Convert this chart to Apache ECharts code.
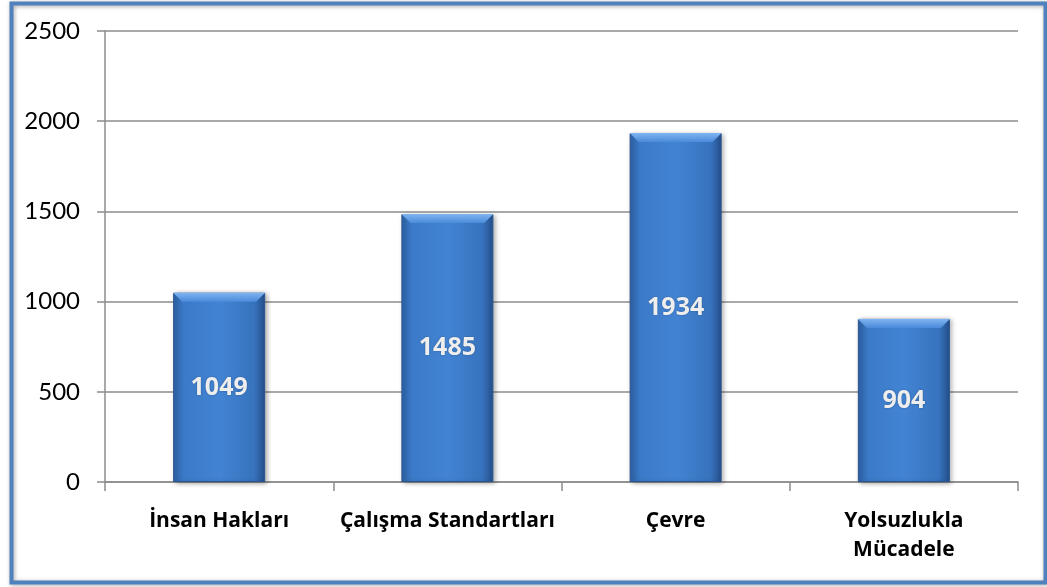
<!DOCTYPE html>
<html>
<head>
<meta charset="utf-8">
<script src="https://cdn.jsdelivr.net/npm/echarts@6/dist/echarts.min.js"></script>
<style>
  html, body { margin: 0; padding: 0; background: #ffffff; }
  #chart { width: 1047px; height: 587px; }
</style>
</head>
<body>
<div id="chart"></div>
<script>
// Category names and counts per principle area
const categories = ['İnsan Hakları', 'Çalışma Standartları', 'Çevre', 'Yolsuzlukla\nMücadele'];
const counts = [1049, 1485, 1934, 904];
const yTicks = [0, 500, 1000, 1500, 2000, 2500];

const BAR_W = 92;
const BEVEL = 9;

const chart = echarts.init(document.getElementById('chart'), null, { renderer: 'canvas' });

const barFill = new echarts.graphic.LinearGradient(0, 0, 1, 0, [
  { offset: 0, color: '#2f64a8' },
  { offset: 0.12, color: '#3b7ac8' },
  { offset: 0.5, color: '#4284d3' },
  { offset: 0.88, color: '#3773be' },
  { offset: 1, color: '#254f8a' }
]);

// Light chamfer along the top edge of every bar
function renderBevel(params, api) {
  const top = api.coord([api.value(0), api.value(1)]);
  const x0 = top[0] - BAR_W / 2;
  const x1 = top[0] + BAR_W / 2;
  const y = top[1];
  return {
    type: 'polygon',
    shape: { points: [[x0, y], [x1, y], [x1 - BEVEL, y + BEVEL], [x0 + BEVEL, y + BEVEL]] },
    style: {
      fill: new echarts.graphic.LinearGradient(0, 0, 0, 1, [
        { offset: 0, color: '#7fb4f0' },
        { offset: 1, color: '#4a8ada' }
      ])
    }
  };
}

chart.setOption({
  animation: false,
  graphic: [{
    type: 'rect',
    left: 9, top: 1,
    shape: { width: 1034, height: 579 },
    style: {
      fill: 'none', stroke: '#4f81bd', lineWidth: 4,
      shadowBlur: 4, shadowColor: 'rgba(0,0,0,0.35)', shadowOffsetX: 1, shadowOffsetY: 1
    },
    z: 100
  }],
  grid: { left: 105, right: 29, top: 31, bottom: 105 },
  xAxis: {
    type: 'category',
    data: categories,
    axisLine: { lineStyle: { color: '#8c8c8c', width: 1.5 } },
    axisTick: { show: true, length: 9, lineStyle: { color: '#8c8c8c', width: 1.5 } },
    axisLabel: {
      color: '#000', fontFamily: 'Open Sans', fontWeight: 'bold', fontSize: 21,
      margin: 25, lineHeight: 29, interval: 0
    }
  },
  yAxis: {
    type: 'value',
    min: yTicks[0],
    max: yTicks[yTicks.length - 1],
    interval: 500,
    axisLine: { show: true, lineStyle: { color: '#8c8c8c', width: 1.5 } },
    axisTick: { show: true, length: 8, lineStyle: { color: '#8c8c8c', width: 1.5 } },
    splitLine: { lineStyle: { color: '#8c8c8c', width: 1.5 } },
    axisLabel: {
      color: '#000', fontFamily: 'Lato', fontSize: 24, margin: 25,
      formatter: (v) => String(v)
    }
  },
  series: [{
    type: 'bar',
    data: counts,
    barWidth: BAR_W,
    itemStyle: {
      color: barFill,
      borderColor: '#2a5590',
      borderWidth: 1,
      shadowBlur: 5,
      shadowColor: 'rgba(0,0,0,0.35)',
      shadowOffsetX: 2,
      shadowOffsetY: 1
    },
    label: {
      show: true,
      position: 'inside',
      color: '#eeeeee',
      fontFamily: 'Open Sans',
      fontWeight: 'bold',
      fontSize: 25,
      textShadowColor: 'rgba(0,0,0,0.3)',
      textShadowBlur: 2
    }
  }, {
    type: 'custom',
    renderItem: renderBevel,
    data: counts.map((v, i) => [i, v]),
    z: 3,
    silent: true
  }]
});
</script>
</body>
</html>
